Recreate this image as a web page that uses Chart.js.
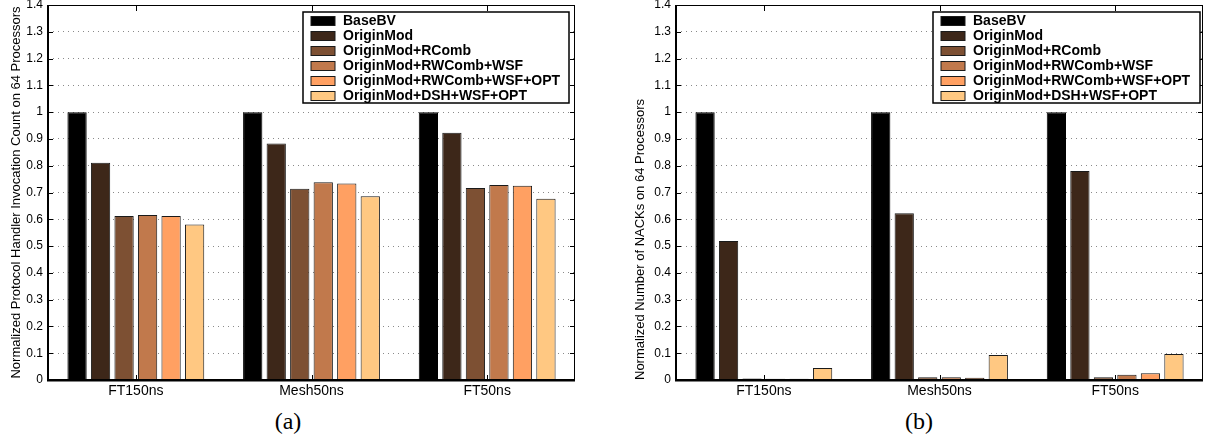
<!DOCTYPE html>
<html>
<head>
<meta charset="utf-8">
<script src="https://cdn.jsdelivr.net/npm/chart.js@4/dist/chart.umd.min.js"></script>
<style>
  body { margin: 0; background: #fff; width: 1205px; height: 438px; position: relative; overflow: hidden; }
  .box { position: absolute; top: 0; height: 400px; }
  #boxA { left: 0; width: 590px; }
  #boxB { left: 620px; width: 585px; }
  .cap { position: absolute; top: 409px; width: 60px; text-align: center; line-height: 25px;
         font-family: "Liberation Serif", "Times New Roman", serif; font-size: 24px; color: #000; }
</style>
</head>
<body>
<div class="box" id="boxA"><canvas id="chartA" width="590" height="400"></canvas></div>
<div class="box" id="boxB"><canvas id="chartB" width="585" height="400"></canvas></div>
<div class="cap" style="left:258px">(a)</div>
<div class="cap" style="left:889px">(b)</div>
<script>
const categories = ["FT150ns", "Mesh50ns", "FT50ns"];
const seriesNames = [
  "BaseBV",
  "OriginMod",
  "OriginMod+RComb",
  "OriginMod+RWComb+WSF",
  "OriginMod+RWComb+WSF+OPT",
  "OriginMod+DSH+WSF+OPT",
];
const seriesColors = ["#000000", "#3d2719", "#7d5033", "#c1794c", "#ffa062", "#ffc882"];

// (a) normalized protocol handler invocation count
const invBaseBV = [1, 1, 1];
const invOriginMod = [0.811, 0.883, 0.923];
const invRComb = [0.612, 0.714, 0.717];
const invRWComb = [0.616, 0.738, 0.728];
const invRWCombOpt = [0.612, 0.734, 0.725];
const invDsh = [0.581, 0.686, 0.677];

// (b) normalized number of NACKs
const nackBaseBV = [1, 1, 1];
const nackOriginMod = [0.519, 0.623, 0.78];
const nackRComb = [0.006, 0.01, 0.01];
const nackRWComb = [0.005, 0.01, 0.02];
const nackRWCombOpt = [0.005, 0.008, 0.025];
const nackDsh = [0.045, 0.093, 0.097];

const yMin = 0;
const yMax = 1.4;
const yStep = 0.1;

// box around the plot with inward ticks, matlab style
const framePlugin = {
  id: "frame",
  afterDatasetsDraw(chart) {
    const { ctx, chartArea: a, scales } = chart;
    const seg = (x1, y1, x2, y2) => {
      ctx.beginPath();
      ctx.moveTo(x1, y1);
      ctx.lineTo(x2, y2);
      ctx.stroke();
    };
    ctx.save();
    ctx.strokeStyle = "#000";
    ctx.lineWidth = 1;
    ctx.strokeRect(a.left + 0.5, a.top + 0.5, a.right - a.left - 1, a.bottom - a.top - 1);
    ctx.lineWidth = 2;
    seg(a.left, a.top, a.left, a.bottom + 1);
    seg(a.left - 1, a.bottom + 0.5, a.right, a.bottom + 0.5);
    ctx.lineWidth = 1;
    scales.y.ticks.forEach((t) => {
      const py = Math.round(scales.y.getPixelForValue(t.value)) + 0.5;
      seg(a.left, py, a.left + 5, py);
      seg(a.right - 5, py, a.right, py);
    });
    categories.forEach((c, i) => {
      const px = Math.round(scales.x.getPixelForValue(i)) + 0.5;
      seg(px, a.bottom, px, a.bottom - 5);
      seg(px, a.top, px, a.top + 6);
    });
    ctx.restore();
  },
};

const boxLegend = {
  id: "boxLegend",
  afterDatasetsDraw(chart, args, opts) {
    const { ctx, chartArea: a } = chart;
    const w = opts.width, h = 91;
    const x0 = a.right - opts.right - w;
    const y0 = a.top + 7;
    ctx.save();
    ctx.fillStyle = "#fff";
    ctx.fillRect(x0, y0, w, h);
    ctx.strokeStyle = "#000";
    ctx.lineWidth = 1.5;
    ctx.strokeRect(x0, y0, w, h);
    ctx.font = "bold 14px 'Liberation Sans', Arial, sans-serif";
    ctx.textBaseline = "middle";
    ctx.textAlign = "left";
    chart.data.datasets.forEach((ds, i) => {
      const cy = Math.round(y0 + 8.5 + i * 15.05);
      ctx.fillStyle = ds.backgroundColor;
      ctx.fillRect(x0 + 8, cy - 4.5, 24, 9);
      ctx.lineWidth = 1;
      ctx.strokeStyle = "#1a1a1a";
      ctx.strokeRect(x0 + 8, cy - 4.5, 24, 9);
      ctx.fillStyle = "#000";
      ctx.fillText(ds.label, x0 + 40, cy + 0.5);
    });
    ctx.restore();
  },
};

function makeChart(id, values, yTitle, yWidth, titlePad, titleAlign, padRight, legendRight, legendWidth) {
  return new Chart(document.getElementById(id), {
    type: "bar",
    data: {
      labels: categories,
      datasets: values.map((v, i) => ({
        label: seriesNames[i],
        data: v,
        backgroundColor: seriesColors[i],
        borderColor: i === 0 ? "#000" : "#1a1a1a",
        borderWidth: 1,
        categoryPercentage: 0.803,
        barPercentage: 0.82,
      })),
    },
    options: {
      responsive: false,
      animation: false,
      devicePixelRatio: 1,
      layout: {
        padding: { left: 0, right: padRight, top: 5, bottom: 0 },
      },
      plugins: {
        legend: { display: false },
        tooltip: { enabled: false },
        boxLegend: { right: legendRight, width: legendWidth },
      },
      scales: {
        x: {
          type: "category",
          offset: true,
          grid: { display: false, drawTicks: false },
          border: { display: false },
          ticks: {
            color: "#000",
            padding: 3,
            font: { family: "'Liberation Sans', Arial, sans-serif", size: 14 },
          },
          afterFit: (s) => { s.height = 20; },
        },
        y: {
          min: yMin,
          max: yMax,
          grid: { color: "#8a8a8a", lineWidth: 1, drawTicks: false },
          border: { display: false, dash: [1, 4] },
          ticks: {
            stepSize: yStep,
            color: "#000",
            padding: 5,
            font: { family: "'Liberation Sans', Arial, sans-serif", size: 12 },
            callback: (v) => String(+Number(v).toFixed(1)),
          },
          title: {
            display: true,
            text: yTitle,
            align: titleAlign,
            color: "#000",
            padding: { top: titlePad, bottom: 0 },
            font: { family: "'Liberation Sans', Arial, sans-serif", size: 13 },
          },
          afterFit: (s) => {
            s.width = yWidth;
            s.paddingTop = 0;
            s.paddingBottom = 0;
          },
        },
      },
    },
    plugins: [framePlugin, boxLegend],
  });
}

makeChart(
  "chartA",
  [invBaseBV, invOriginMod, invRComb, invRWComb, invRWCombOpt, invDsh],
  "Normalized Protocol Handler Invocation Count on 64 Processors",
  48, 8.2, "center", 15, 6, 266
);

makeChart(
  "chartB",
  [nackBaseBV, nackOriginMod, nackRComb, nackRWComb, nackRWCombOpt, nackDsh],
  "Normalized Number of NACKs on 64 Processors",
  56, 12.2, "start", 2, 3, 267
);
</script>
</body>
</html>
